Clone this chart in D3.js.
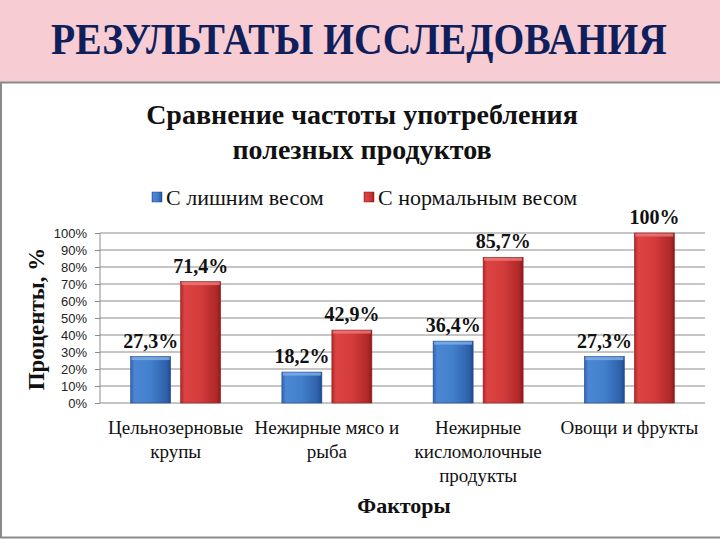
<!DOCTYPE html>
<html><head><meta charset="utf-8">
<script src="https://cdn.jsdelivr.net/npm/d3@7"></script>
<style>body{margin:0;padding:0;background:#fff;}svg{display:block;}</style>
</head><body>
<svg id="c" width="720" height="540"></svg>
<script>
const categories = [["Цельнозерновые","крупы"],["Нежирные мясо и","рыба"],["Нежирные","кисломолочные","продукты"],["Овощи и фрукты"]];
const seriesNames = ["С лишним весом","С нормальным весом"];
const overweight = [27.3, 18.2, 36.4, 27.3];
const normal = [71.4, 42.9, 85.7, 100];
const yTicks = [0,10,20,30,40,50,60,70,80,90,100];

const svg = d3.select("#c");
const serif = "Liberation Serif";
const sans = "Liberation Sans";

// header band
svg.append("rect").attr("x",0).attr("y",0).attr("width",720).attr("height",83).attr("fill","#f7ccd3");
const head = svg.append("text").attr("x",0).attr("y",0).attr("text-anchor","middle")
  .attr("font-family",serif).attr("font-weight","bold").attr("font-size",44)
  .attr("fill","#0f1f5c").text("РЕЗУЛЬТАТЫ ИССЛЕДОВАНИЯ");
const hw = head.node().getComputedTextLength();
head.attr("transform",`translate(359,54) scale(${616/hw},1)`);
// panel
svg.append("rect").attr("x",1).attr("y",82.5).attr("width",722).attr("height",455).attr("fill","#fff")
  .attr("stroke","#8a8a8a").attr("stroke-width",2);

// gradients
const defs = svg.append("defs");
function grad(id, stops){
  const g = defs.append("linearGradient").attr("id",id).attr("x1","0").attr("x2","1").attr("y1","0").attr("y2","0");
  stops.forEach(s=>g.append("stop").attr("offset",s[0]).attr("stop-color",s[1]));
}
grad("gb",[[0,"#3165b3"],[0.1,"#4d86d4"],[0.5,"#4280cc"],[0.9,"#2e60ab"],[1,"#1f4a8c"]]);
grad("gr",[[0,"#b52525"],[0.1,"#dc4444"],[0.5,"#d43c3c"],[0.9,"#b02828"],[1,"#8c1c1c"]]);

// titles
svg.append("text").attr("x",362).attr("y",124).attr("text-anchor","middle").attr("font-family",serif)
  .attr("font-weight","bold").attr("font-size",28).attr("fill","#111").text("Сравнение частоты употребления");
svg.append("text").attr("x",362).attr("y",159).attr("text-anchor","middle").attr("font-family",serif)
  .attr("font-weight","bold").attr("font-size",28).attr("fill","#111").text("полезных продуктов");

// scales
const x0 = d3.scaleBand().domain(d3.range(categories.length)).range([100,705]).paddingInner(0).paddingOuter(0);
const y = d3.scaleLinear().domain([0,100]).range([403,233]);

// grid
svg.append("g").selectAll("line").data(yTicks).join("line")
  .attr("x1",100).attr("x2",705).attr("y1",d=>y(d)).attr("y2",d=>y(d))
  .attr("stroke","#8c8c8c").attr("stroke-width",1);
svg.append("line").attr("x1",100).attr("x2",100).attr("y1",y(100)).attr("y2",y(0)).attr("stroke","#8c8c8c");

// y axis
const yAxis = d3.axisLeft(y).tickValues(yTicks).tickFormat(d=>d+"%").tickSize(5).tickPadding(8);
const ya = svg.append("g").attr("transform","translate(100,0)").call(yAxis);
ya.select(".domain").remove();
ya.selectAll("line").attr("stroke","#8c8c8c");
ya.selectAll("text").attr("font-family",sans).attr("font-size",13).attr("fill","#222");

svg.append("text").attr("transform","translate(44,319) rotate(-90)").attr("text-anchor","middle")
  .attr("font-family",serif).attr("font-weight","bold").attr("font-size",23).attr("fill","#111").text("Проценты, %");

// bars
const barW = 40, gap = 10;
const series = [{vals:overweight, fill:"url(#gb)", edge:"#1e4a8a"},{vals:normal, fill:"url(#gr)", edge:"#8a1e1e"}];
series.forEach((s,si)=>{
  const g = svg.append("g");
  const bx = i => x0(i)+x0.bandwidth()/2 + (si===0 ? -(barW+gap/2) : gap/2);
  g.selectAll("rect.b").data(s.vals).join("rect").attr("class","b")
    .attr("x",(d,i)=>bx(i)).attr("y",d=>y(d)).attr("width",barW).attr("height",d=>y(0)-y(d))
    .attr("fill",s.fill).attr("stroke",s.edge).attr("stroke-width",0.6);
  g.selectAll("rect.t").data(s.vals).join("rect").attr("class","t")
    .attr("x",(d,i)=>bx(i)+1).attr("y",d=>y(d)+0.5).attr("width",barW-2).attr("height",3)
    .attr("fill",si===0?"#7fb0ec":"#ee7a7a").attr("opacity",0.8);
  g.selectAll("text").data(s.vals).join("text")
    .attr("x",(d,i)=>bx(i)+barW/2).attr("y",d=>y(d)-9).attr("text-anchor","middle")
    .attr("font-family",serif).attr("font-weight","bold").attr("font-size",20).attr("fill","#111")
    .text(d=> (d===100? "100" : d.toFixed(1).replace(".",",")) + "%");
});

// category labels
categories.forEach((lines,i)=>{
  const t = svg.append("text").attr("text-anchor","middle").attr("font-family",serif)
    .attr("font-size",19).attr("fill","#111");
  lines.forEach((l,j)=>t.append("tspan").attr("x",x0(i)+x0.bandwidth()/2).attr("y",434+j*24).text(l));
});
svg.append("text").attr("x",404).attr("y",513).attr("text-anchor","middle").attr("font-family",serif)
  .attr("font-weight","bold").attr("font-size",22).attr("fill","#111").text("Факторы");

// legend
const leg = [{x:152,c:"url(#gb)",e:"#1e4a8a"},{x:364,c:"url(#gr)",e:"#8a1e1e"}];
leg.forEach((l,i)=>{
  svg.append("rect").attr("x",l.x).attr("y",192).attr("width",10).attr("height",10).attr("fill",l.c).attr("stroke",l.e).attr("stroke-width",0.5);
  svg.append("text").attr("x",l.x+14).attr("y",205).attr("font-family",serif).attr("font-size",22).attr("fill","#111").text(seriesNames[i]);
});
</script>
</body></html>
